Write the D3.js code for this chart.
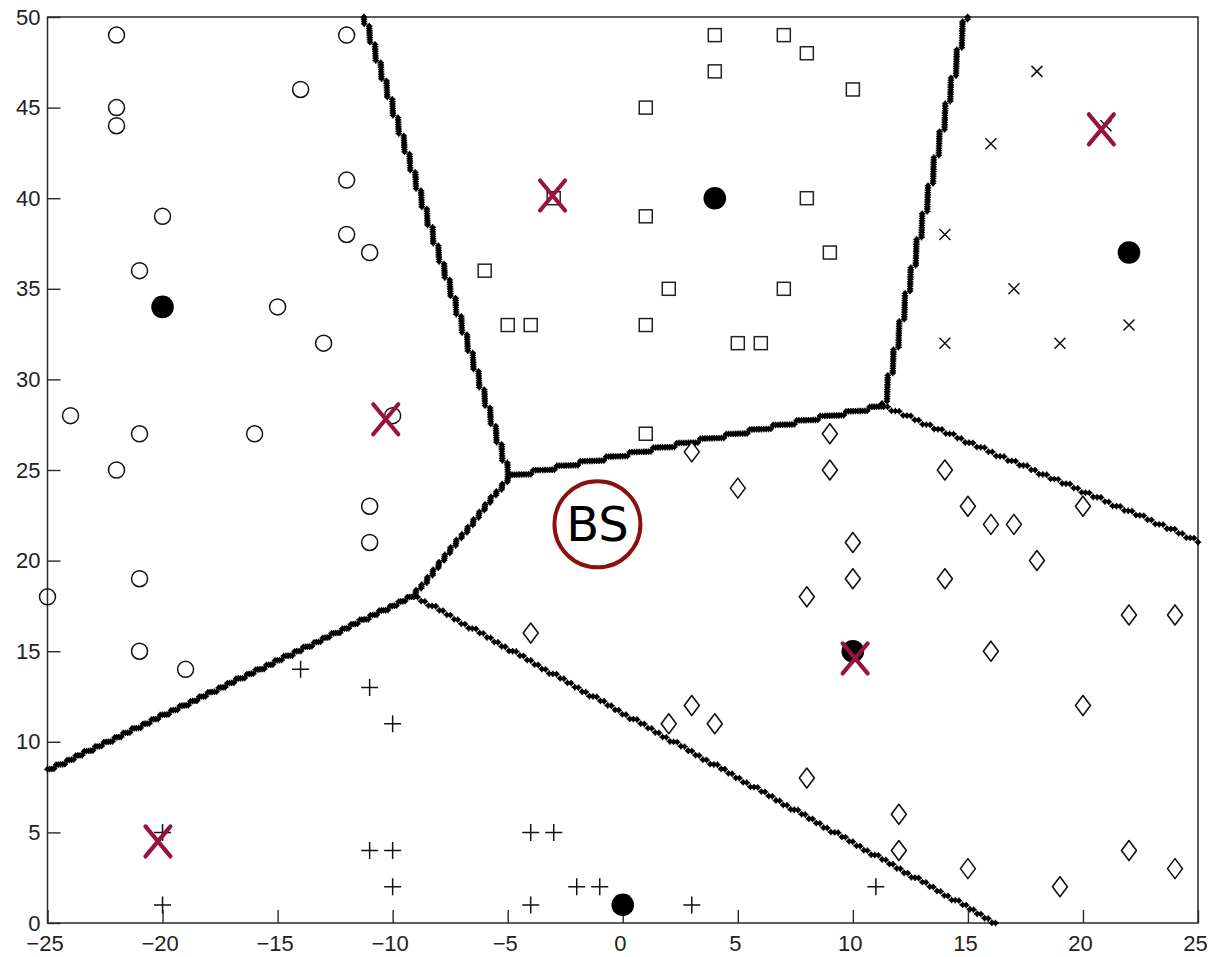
<!DOCTYPE html>
<html>
<head>
<meta charset="utf-8">
<script src="https://cdn.jsdelivr.net/npm/d3@7"></script>
<style>
  html, body { margin: 0; padding: 0; background: #fff; }
  svg { display: block; }
</style>
</head>
<body>
<svg id="chart" width="1224" height="957"></svg>
<script>
// ---------------- data ----------------
const xTicks = [-25, -20, -15, -10, -5, 0, 5, 10, 15, 20, 25];
const yTicks = [0, 5, 10, 15, 20, 25, 30, 35, 40, 45, 50];

// cluster heads (filled circles) -> Voronoi sites
const centerNames = ["A", "B", "C", "D", "E"];
const centerX = [-20, 4, 22, 10, 0];
const centerY = [34, 40, 37, 15, 1];

// users of each cell
const circleX = [-22, -22, -22, -12, -14, -12, -20, -12, -11, -21, -15, -13, -24, -10, -21, -16, -22, -11, -11, -21, -25, -21, -19];
const circleY = [49, 45, 44, 49, 46, 41, 39, 38, 37, 36, 34, 32, 28, 28, 27, 27, 25, 23, 21, 19, 18, 15, 14];

const squareX = [4, 7, 8, 4, 1, 10, -3, 8, 1, 9, -6, 2, 7, -5, -4, 1, 5, 6, 1];
const squareY = [49, 49, 48, 47, 45, 46, 40, 40, 39, 37, 36, 35, 35, 33, 33, 33, 32, 32, 27];

const smallXX = [18, 16, 21, 14, 17, 14, 19, 22];
const smallXY = [47, 43, 44, 38, 35, 32, 32, 33];

const diamondX = [3, 9, 5, 9, 14, 15, 16, 17, 20, 10, 10, 14, 18, 8, -4, 22, 24, 16, 2, 3, 4, 20, 8, 12, 12, 15, 19, 22, 24];
const diamondY = [26, 27, 24, 25, 25, 23, 22, 22, 23, 21, 19, 19, 20, 18, 16, 17, 17, 15, 11, 12, 11, 12, 8, 6, 4, 3, 2, 4, 3];

const plusX = [-14, -11, -10, -20, -11, -10, -10, -20, -4, -3, -2, -1, -4, 3, 11];
const plusY = [14, 13, 11, 5, 4, 4, 2, 1, 5, 5, 2, 2, 1, 1, 2];

// UAV positions (red crosses)
const uavX = [-3.05, -10.3, 20.8, -20.2, 10.1];
const uavY = [40.15, 27.8, 43.8, 4.5, 14.6];

// base station
const bsX = [-1.1];
const bsY = [22.0];
const bsLabel = ["BS"];

// boundaries drawn sparsely (dotted look)
const sparsePairs = ["C-D", "D-E"];

// ---------------- layout ----------------
const svg = d3.select("#chart");
const x = d3.scaleLinear().domain([-25, 25]).range([47.5, 1198]);
const y = d3.scaleLinear().domain([0, 50]).range([923, 17]);
const axisColor = "#2a2a2a";

// frame
svg.append("rect")
  .attr("x", x(-25)).attr("y", y(50))
  .attr("width", x(25) - x(-25)).attr("height", y(0) - y(50))
  .attr("fill", "none").attr("stroke", axisColor).attr("stroke-width", 1.5);

const gx = svg.append("g").attr("transform", `translate(0,${y(0)})`)
  .call(d3.axisBottom(x).tickValues(xTicks).tickSize(-13).tickSizeOuter(0).tickPadding(12));
const gy = svg.append("g").attr("transform", `translate(${x(-25)},0)`)
  .call(d3.axisLeft(y).tickValues(yTicks).tickSize(-13).tickSizeOuter(0).tickPadding(7));
[gx, gy].forEach(g => {
  g.select(".domain").remove();
  g.selectAll(".tick line").attr("stroke", axisColor).attr("stroke-width", 1.4);
  g.selectAll(".tick text")
    .attr("fill", "#222")
    .style("font-family", "'Liberation Sans', Arial, sans-serif")
    .style("font-size", "22px");
});
gx.selectAll(".tick text").attr("dx", -3);

// ---------------- Voronoi boundaries ----------------
const sites = centerX.map((cx, i) => [cx, centerY[i]]);
const delaunay = d3.Delaunay.from(sites);
const vor = delaunay.voronoi([-25, 0, 25, 50]);
const eps = 1e-6;
function onBox(p, q) {
  return (Math.abs(p[0] + 25) < eps && Math.abs(q[0] + 25) < eps) ||
         (Math.abs(p[0] - 25) < eps && Math.abs(q[0] - 25) < eps) ||
         (Math.abs(p[1]) < eps && Math.abs(q[1]) < eps) ||
         (Math.abs(p[1] - 50) < eps && Math.abs(q[1] - 50) < eps);
}
const edges = [];
const seen = new Set();
for (let i = 0; i < sites.length; i++) {
  for (const j of delaunay.neighbors(i)) {
    if (j <= i) continue;
    const pi = vor.cellPolygon(i), pj = vor.cellPolygon(j);
    const shared = pi.filter(p => pj.some(q => Math.hypot(p[0] - q[0], p[1] - q[1]) < 1e-6));
    const uniq = [];
    shared.forEach(p => { if (!uniq.some(u => Math.hypot(u[0] - p[0], u[1] - p[1]) < 1e-6)) uniq.push(p); });
    if (uniq.length < 2) continue;
    const [p, q] = uniq;
    if (onBox(p, q)) continue;
    const key = centerNames[i] + "-" + centerNames[j];
    if (seen.has(key)) continue;
    seen.add(key);
    edges.push({ p, q, key });
  }
}

const bPts = [];
const grid = 0.25;
edges.forEach(e => {
  const [p, q] = [e.p, e.q];
  const dxp = x(q[0]) - x(p[0]), dyp = y(q[1]) - y(p[1]);
  const len = Math.hypot(dxp, dyp);
  const step = sparsePairs.includes(e.key) ? 4.2 : 2.4;
  const n = Math.max(2, Math.round(len / step));
  const steep = Math.abs(dyp) > Math.abs(dxp);
  for (let k = 0; k <= n; k++) {
    const t = k / n;
    let px = p[0] + t * (q[0] - p[0]);
    let py = p[1] + t * (q[1] - p[1]);
    if (steep) px = Math.round(px / grid) * grid + (px - Math.round(px / grid) * grid) * 0.15;
    else py = Math.round(py / grid) * grid + (py - Math.round(py / grid) * grid) * 0.15;
    bPts.push([px, py]);
  }
});

const bg = svg.append("g");
bg.selectAll("circle").data(bPts).enter().append("circle")
  .attr("cx", d => x(d[0])).attr("cy", d => y(d[1])).attr("r", 2.4).attr("fill", "#000");
bg.selectAll("path").data(bPts).enter().append("path")
  .attr("d", d => `M${x(d[0]) - 3.2},${y(d[1])}H${x(d[0]) + 3.2}M${x(d[0])},${y(d[1]) - 3.2}V${y(d[1]) + 3.2}`)
  .attr("stroke", "#000").attr("stroke-width", 1.4);

// ---------------- users ----------------
const mk = "#111";
svg.append("g").selectAll("circle").data(circleX.map((v, i) => [v, circleY[i]])).enter()
  .append("circle").attr("cx", d => x(d[0])).attr("cy", d => y(d[1])).attr("r", 8)
  .attr("fill", "none").attr("stroke", mk).attr("stroke-width", 1.5);

svg.append("g").selectAll("rect").data(squareX.map((v, i) => [v, squareY[i]])).enter()
  .append("rect").attr("x", d => x(d[0]) - 6.5).attr("y", d => y(d[1]) - 6.5)
  .attr("width", 13).attr("height", 13)
  .attr("fill", "none").attr("stroke", "#222").attr("stroke-width", 1.5);

svg.append("g").selectAll("path").data(smallXX.map((v, i) => [v, smallXY[i]])).enter()
  .append("path").attr("d", d => {
    const cx = x(d[0]), cy = y(d[1]), s = 5.5;
    return `M${cx - s},${cy - s}L${cx + s},${cy + s}M${cx - s},${cy + s}L${cx + s},${cy - s}`;
  }).attr("stroke", mk).attr("stroke-width", 1.5).attr("fill", "none");

svg.append("g").selectAll("path").data(diamondX.map((v, i) => [v, diamondY[i]])).enter()
  .append("path").attr("d", d => {
    const cx = x(d[0]), cy = y(d[1]), w = 7.5, h = 10;
    return `M${cx},${cy - h}L${cx + w},${cy}L${cx},${cy + h}L${cx - w},${cy}Z`;
  }).attr("stroke", mk).attr("stroke-width", 1.6).attr("stroke-linejoin", "round").attr("fill", "#fff");

svg.append("g").selectAll("path").data(plusX.map((v, i) => [v, plusY[i]])).enter()
  .append("path").attr("d", d => {
    const cx = x(d[0]), cy = y(d[1]), s = 8.5;
    return `M${cx - s},${cy}H${cx + s}M${cx},${cy - s}V${cy + s}`;
  }).attr("stroke", mk).attr("stroke-width", 1.5).attr("fill", "none");

// cluster heads
svg.append("g").selectAll("circle").data(sites).enter()
  .append("circle").attr("cx", d => x(d[0])).attr("cy", d => y(d[1])).attr("r", 11.3).attr("fill", "#000");

// UAVs
svg.append("g").selectAll("path").data(uavX.map((v, i) => [v, uavY[i]])).enter()
  .append("path").attr("d", d => {
    const cx = x(d[0]), cy = y(d[1]), w = 12.5, h = 15;
    return `M${cx - w},${cy - h}L${cx + w},${cy + h}M${cx - w},${cy + h}L${cx + w},${cy - h}`;
  }).attr("stroke", "#9a1240").attr("stroke-width", 4.2).attr("stroke-linecap", "round").attr("fill", "none");

// base station
const bs = svg.append("g");
bs.selectAll("circle").data(bsX.map((v, i) => [v, bsY[i]])).enter()
  .append("circle").attr("cx", d => x(d[0])).attr("cy", d => y(d[1])).attr("r", 43)
  .attr("fill", "#fff").attr("stroke", "#8b1010").attr("stroke-width", 4);
bs.selectAll("text").data(bsX.map((v, i) => [v, bsY[i], bsLabel[i]])).enter()
  .append("text").attr("x", d => x(d[0])).attr("y", d => y(d[1]) + 17)
  .attr("text-anchor", "middle")
  .style("font-family", "'Comic Sans MS', 'DejaVu Sans', sans-serif")
  .style("font-size", "48px").attr("fill", "#000")
  .text(d => d[2]);
</script>
</body>
</html>
